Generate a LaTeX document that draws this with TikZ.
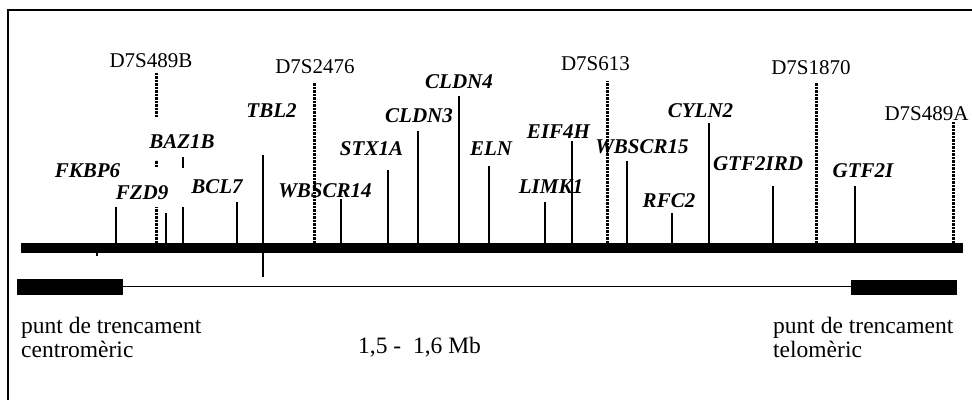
\documentclass[tikz,border=0pt]{standalone}
\usepackage{fontspec}
\setmainfont{Liberation Serif}
\begin{document}
\begin{tikzpicture}[x=1pt,y=-1pt,
  gene/.style={font=\fontsize{21}{24}\selectfont\bfseries\itshape, inner sep=0pt, anchor=base},
  marker/.style={font=\fontsize{21}{24}\selectfont, inner sep=0pt, anchor=base},
  body/.style={font=\fontsize{23.5}{26}\selectfont, inner sep=0pt, anchor=base west},
  tick/.style={line width=2.2pt},
  dots/.style={line width=3pt, dash pattern=on 2.4pt off 1.1pt},
  frame/.style={line width=2pt},
  thin/.style={line width=1.6pt}]
\useasboundingbox (0,0) rectangle (972,399);
\clip (0,0) rectangle (972,399);
% frame (open to the right and bottom)
\draw[frame] (8.3,420) -- (8.3,10) -- (990,10);

% gene ticks
\draw[tick] (97,248) -- (97,256);
\draw[tick] (116,248) -- (116,207);
\draw[tick] (166,248) -- (166,213);
\draw[tick] (182.7,248) -- (182.7,207);
\draw[tick] (182.7,168) -- (182.7,157);
\draw[tick] (236.7,248) -- (236.7,202);
\draw[tick] (263.3,277) -- (263.3,155);
\draw[tick] (340.7,248) -- (340.7,199);
\draw[tick] (387.7,248) -- (387.7,170);
\draw[tick] (417.7,248) -- (417.7,130.7);
\draw[tick] (458.7,248) -- (458.7,96);
\draw[tick] (489.3,248) -- (489.3,166);
\draw[tick] (545,248) -- (545,201.7);
\draw[tick] (571.7,248) -- (571.7,140.7);
\draw[tick] (627.3,248) -- (627.3,160.7);
\draw[tick] (672.3,248) -- (672.3,213);
\draw[tick] (709.3,248) -- (709.3,122.7);
\draw[tick] (772.7,248) -- (772.7,185.7);
\draw[tick] (855,248) -- (855,185.7);

% marker dotted lines
\draw[dots] (156,243) -- (156,207);
\draw[dots] (156,167) -- (156,160);
\draw[dots] (156,117) -- (156,71.7);
\draw[dots] (314.3,243) -- (314.3,83);
\draw[dots] (607.3,243) -- (607.3,80.7);
\draw[dots] (816.7,243) -- (816.7,83.3);
\draw[dots] (953.3,243) -- (953.3,121);

% chromosome bar
\fill (21,243) rectangle (963,253);

% gene labels
\node[gene] (fkbp6) at (87.5,177) {FKBP6};
\node[gene] (fzd9) at (142,199) {FZD9};
\node[gene] (baz1b) at (182,148) {BAZ1B};
\node[gene] (bcl7) at (217,193) {BCL7};
\node[gene] (tbl2) at (271.5,117) {TBL2};
\node[gene] (wbscr14) at (325,197) {WBSCR14};
\node[gene] (stx1a) at (371.5,155) {STX1A};
\node[gene] (cldn3) at (419,122) {CLDN3};
\node[gene] (cldn4) at (459,88) {CLDN4};
\node[gene] (eln) at (491,155) {ELN};
\node[gene] (limk1) at (551,193) {LIMK1};
\node[gene] (eif4h) at (558.5,138) {EIF4H};
\node[gene] (wbscr15) at (642,153) {WBSCR15};
\node[gene] (rfc2) at (669,207) {RFC2};
\node[gene] (cyln2) at (700.5,117) {CYLN2};
\node[gene] (gtf2ird) at (758,170) {GTF2IRD};
\node[gene] (gtf2i) at (863,177) {GTF2I};

% marker labels
\node[marker] (m489b) at (151,67) {D7S489B};
\node[marker] (m2476) at (315,73) {D7S2476};
\node[marker] (m613) at (595.5,70) {D7S613};
\node[marker] (m1870) at (811,74) {D7S1870};
\node[marker] (m489a) at (926.5,120) {D7S489A};

% deletion line
\fill (17,279) rectangle (123,294.5);
\fill (851,279.5) rectangle (957,295);
\draw[thin] (123,286.5) -- (851,286.5);

% bottom texts
\node[body] (lefta) at (21,333) {punt de trencament};
\node[body] (leftb) at (21,357) {centromèric};
\node[body] (size) at (358,353) {1,5 -\ \ 1,6 Mb};
\node[body] (righta) at (773,333) {punt de trencament};
\node[body] (rightb) at (773,357) {telomèric};
\end{tikzpicture}
\end{document}
